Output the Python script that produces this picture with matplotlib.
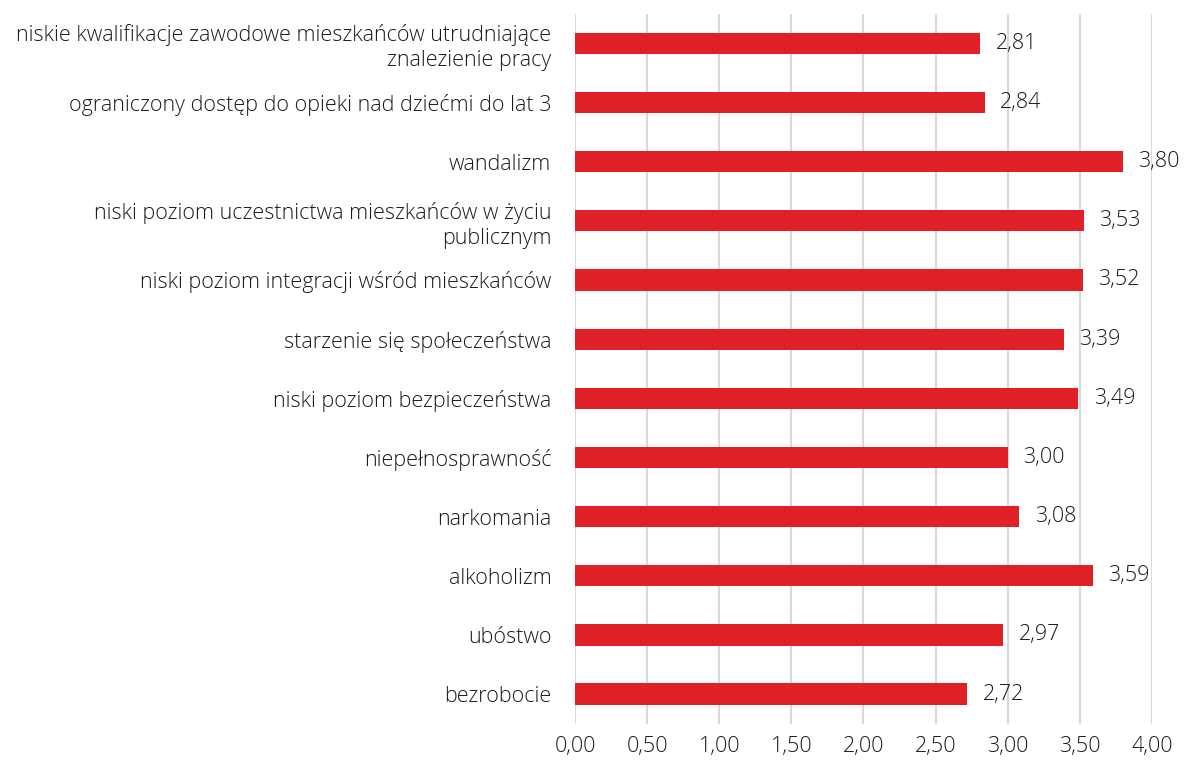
import matplotlib
matplotlib.use("Agg")
import matplotlib.pyplot as plt

categories = [
    "niskie kwalifikacje zawodowe mieszkańców utrudniające\nznalezienie pracy",
    "ograniczony dostęp do opieki nad dziećmi do lat 3",
    "wandalizm",
    "niski poziom uczestnictwa mieszkańców w życiu\npublicznym",
    "niski poziom integracji wśród mieszkańców",
    "starzenie się społeczeństwa",
    "niski poziom bezpieczeństwa",
    "niepełnosprawność",
    "narkomania",
    "alkoholizm",
    "ubóstwo",
    "bezrobocie",
]
values = [2.81, 2.84, 3.80, 3.53, 3.52, 3.39, 3.49, 3.00, 3.08, 3.59, 2.97, 2.72]
xticks = [0.0, 0.5, 1.0, 1.5, 2.0, 2.5, 3.0, 3.5, 4.0]

def fmt(v):
    return f"{v:.2f}".replace(".", ",")

plt.rcParams['font.family'] = ['Open Sans', 'DejaVu Sans']
plt.rcParams['font.weight'] = 'light'
fig = plt.figure(figsize=(11.84, 7.65), dpi=100)
ax = fig.add_axes([0.4856, 0.054, 0.4874, 0.928])

txt = "#1a1a1a"
fs = 15.5
n = len(categories)
ypos = list(range(n))
ax.barh(ypos, values, height=0.36, color="#e02027", zorder=3)
ax.set_ylim(n - 0.5, -0.5)
ax.set_xlim(0, 4)
ax.set_xticks(xticks)
ax.set_xticklabels([fmt(t) for t in xticks], fontsize=fs, color=txt)
ax.set_yticks(ypos)
ax.set_yticklabels(categories, fontsize=fs, color=txt, linespacing=1.25)
ax.tick_params(axis='x', length=0, pad=9)
ax.tick_params(axis='y', length=0, pad=17)
ax.grid(axis='x', color="#d9d9d9", linewidth=1.5, zorder=0)
for s in ax.spines.values():
    s.set_visible(False)
for y, v in zip(ypos, values):
    ax.annotate(fmt(v), (v, y), xytext=(11, 0), textcoords="offset points",
                va="center", ha="left", fontsize=fs, color=txt)

fig.savefig("out.png", dpi=100)
